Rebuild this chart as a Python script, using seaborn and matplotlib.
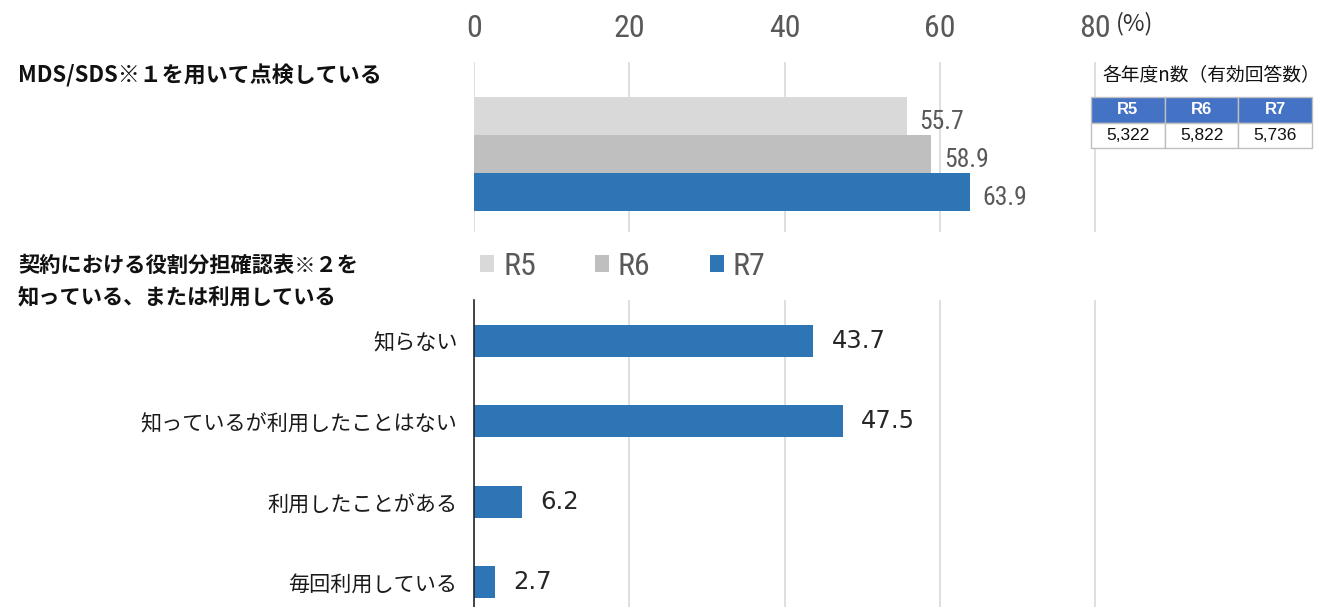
import matplotlib
matplotlib.use("Agg")
import matplotlib.pyplot as plt
from matplotlib import font_manager
from matplotlib.patches import Patch
import seaborn as sns
import pandas as pd

# ---- data -------------------------------------------------------------
years = ["R5", "R6", "R7"]
mds_values = [55.7, 58.9, 63.9]
contract_categories = ["知らない", "知っているが利用したことはない", "利用したことがある", "毎回利用している"]
contract_values = [43.7, 47.5, 6.2, 2.7]
n_counts = ["5,322", "5,822", "5,736"]
x_ticks = [0, 20, 40, 60, 80]

title_mds = "MDS/SDS※１を用いて点検している"
title_contract = "契約における役割分担確認表※２を\n知っている、または利用している"
table_title = "各年度n数（有効回答数）"

# ---- style ------------------------------------------------------------
sns.set_theme(style="white")
JP = "Noto Sans CJK JP"
plt.rcParams["font.family"] = [JP, "DejaVu Sans"]

# a narrow face for the axis numbers, if one is installed
fonts = font_manager.fontManager.ttflist
names = {f.name for f in fonts}
NARROW, STRETCH = "DejaVu Sans", "normal"
for cand in ["Liberation Sans Narrow", "Roboto Condensed", "Open Sans Condensed"]:
    if cand in names:
        NARROW = cand
        break
else:
    if any(f.name == "DejaVu Sans" and f.stretch == "condensed" for f in fonts):
        STRETCH = "condensed"

narrow_kw = dict(fontfamily=NARROW, fontstretch=STRETCH)

year_colors = dict(zip(years, ["#D9D9D9", "#BFBFBF", "#2E75B6"]))
GRID = "#D9D9D9"
LABEL_GRAY = "#595959"

W, H = 1342, 607
fig = plt.figure(figsize=(W / 100, H / 100), dpi=100)
fig.patch.set_facecolor("white")

ax_left = 474 / W
ax_width = 622 / W

# ---- upper panel: MDS/SDS inspection by year ---------------------------
ax_top = fig.add_axes([ax_left, 1 - 232 / H, ax_width, 170 / H])
df_top = pd.DataFrame({"year": years, "value": mds_values})
sns.barplot(data=df_top, y="year", x="value", hue="year", palette=year_colors,
            orient="h", width=0.98, legend=False, ax=ax_top, linewidth=0,
            saturation=1)
ax_top.set_xlim(0, 80.1)
ax_top.set_ylim(3.05, -1.42)
ax_top.set_xticks(x_ticks, labels=[str(t) for t in x_ticks],
                  fontsize=23, color=LABEL_GRAY, **narrow_kw)
ax_top.xaxis.set_ticks_position("top")
ax_top.tick_params(axis="x", length=0, pad=14)
ax_top.set_yticks([])
ax_top.set_xlabel("")
ax_top.set_ylabel("")
ax_top.grid(axis="x", color=GRID, lw=1.2)
ax_top.set_axisbelow(True)
for s in ax_top.spines.values():
    s.set_visible(False)
for cont in ax_top.containers:
    for t in ax_top.bar_label(cont, fmt="%.1f", padding=9, fontsize=18.5,
                              color=LABEL_GRAY, **narrow_kw):
        t.set_y(-4)

fig.text(1116 / W, 1 - 24 / H, "(%)", fontsize=17, color="#333333",
         va="center", ha="left", family=[JP])

# ---- legend ------------------------------------------------------------
handles = [Patch(facecolor=year_colors[y], edgecolor="none", label=y) for y in years]
fig.legend(handles=handles, loc="center left", bbox_to_anchor=(480 / W, 1 - 266 / H),
           ncol=3, frameon=False, handlelength=0.44, handleheight=0.44,
           handletextpad=0.28, columnspacing=1.85, borderaxespad=0, borderpad=0,
           prop={"family": NARROW, "stretch": STRETCH, "size": 23},
           labelcolor=LABEL_GRAY)

# ---- lower panel: contract role-sharing table awareness ----------------
ax_bot = fig.add_axes([ax_left, 0, ax_width, 307 / H])
df_bot = pd.DataFrame({"category": contract_categories, "value": contract_values})
sns.barplot(data=df_bot, y="category", x="value", color="#2E75B6",
            orient="h", width=0.4, ax=ax_bot, linewidth=0, saturation=1)
ax_bot.set_xlim(0, 80.1)
ax_bot.set_ylim(3.31, -0.51)
ax_bot.set_xticks(x_ticks)
ax_bot.tick_params(axis="x", length=0, labelbottom=False)
ax_bot.tick_params(axis="y", length=0, pad=12, labelsize=15.2, labelcolor="#1a1a1a")
ax_bot.set_xlabel("")
ax_bot.set_ylabel("")
ax_bot.grid(axis="x", color=GRID, lw=1.2)
ax_bot.set_axisbelow(True)
for name, s in ax_bot.spines.items():
    s.set_visible(name == "left")
ax_bot.spines["left"].set_color("#262626")
ax_bot.spines["left"].set_linewidth(1.2)
for cont in ax_bot.containers:
    ax_bot.bar_label(cont, fmt="%.1f", padding=13, fontsize=17.5,
                     color="#262626", family="DejaVu Sans")

# ---- section headings ---------------------------------------------------
fig.text(18 / W, 1 - 76 / H, title_mds, fontsize=15.8, fontweight="bold",
         va="center", ha="left", color="#111111")
fig.text(18 / W, 1 - 281 / H, title_contract, fontsize=15.3, fontweight="bold",
         va="center", ha="left", color="#111111", linespacing=1.6)

# ---- sample size table --------------------------------------------------
fig.text(1102 / W, 1 - 75 / H, table_title, fontsize=13.5, va="center",
         ha="left", color="#111111")
ax_tab = fig.add_axes([1091 / W, 1 - 148 / H, 221 / W, 51 / H])
ax_tab.axis("off")
tab = ax_tab.table(cellText=[n_counts], colLabels=years, cellLoc="center",
                   bbox=[0, 0, 1, 1])
tab.auto_set_font_size(False)
for (r, c), cell in tab.get_celld().items():
    cell.set_edgecolor("#BFBFBF")
    cell.set_linewidth(1)
    txt = cell.get_text()
    txt.set_fontfamily("Liberation Sans")
    if r == 0:
        cell.set_facecolor("#4472C4")
        txt.set_color("white")
        txt.set_fontweight("bold")
        txt.set_fontsize(12)
    else:
        cell.set_facecolor("white")
        txt.set_color("#111111")
        txt.set_fontsize(12.5)

fig.savefig("out.png", dpi=100, facecolor="white")
